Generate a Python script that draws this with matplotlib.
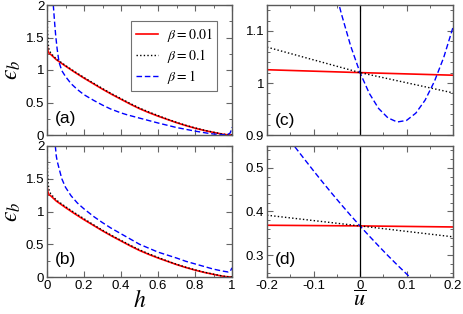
import matplotlib
matplotlib.use("Agg")
import matplotlib.pyplot as plt
from matplotlib.ticker import MultipleLocator, FormatStrFormatter
import numpy as np

plt.rcParams['font.family'] = ['Liberation Sans', 'DejaVu Sans']
plt.rcParams['mathtext.fontset'] = 'stix'
plt.rcParams['axes.unicode_minus'] = False

# panel (a): eps_b vs h
h_red_a = [0.0, 0.005, 0.01, 0.02, 0.05, 0.1, 0.15, 0.2, 0.25, 0.3, 0.35, 0.4, 0.45, 0.5,
           0.55, 0.6, 0.65, 0.7, 0.75, 0.8, 0.85, 0.9, 0.95, 0.97, 1.0]
eps_red_a = [1.40, 1.30, 1.26, 1.24, 1.16, 1.06, 0.965, 0.875, 0.79, 0.705, 0.625, 0.55, 0.475, 0.405,
             0.345, 0.29, 0.24, 0.19, 0.145, 0.105, 0.07, 0.04, 0.012, 0.005, 0.0]
h_blk_a = [0.001, 0.002, 0.003, 0.006, 0.01, 0.02, 0.05, 0.1, 0.15, 0.2, 0.25, 0.3, 0.35, 0.4, 0.45,
           0.5, 0.55, 0.6, 0.65, 0.7, 0.75, 0.8, 0.85, 0.9, 0.95, 0.97, 1.0]
eps_blk_a = [2.0, 1.75, 1.6, 1.42, 1.33, 1.26, 1.17, 1.07, 0.975, 0.885, 0.80, 0.715, 0.635, 0.56, 0.485,
             0.415, 0.355, 0.30, 0.245, 0.195, 0.15, 0.11, 0.074, 0.043, 0.014, 0.006, 0.002]
h_blue_a = [0.034, 0.038, 0.042, 0.047, 0.055, 0.065, 0.08, 0.1, 0.13, 0.164, 0.2, 0.254, 0.3, 0.344,
            0.4, 0.434, 0.5, 0.6, 0.7, 0.8, 0.863, 0.9, 0.95, 0.975, 0.99, 0.995, 1.0]
eps_blue_a = [2.0, 1.85, 1.7, 1.53, 1.32, 1.12, 0.99, 0.9, 0.79, 0.70, 0.62, 0.53, 0.46, 0.40,
              0.34, 0.31, 0.26, 0.185, 0.115, 0.06, 0.03, 0.015, 0.005, 0.005, 0.03, 0.07, 0.12]

# panel (b)
h_red_b = h_red_a
eps_red_b = [1.40, 1.30, 1.26, 1.24, 1.16, 1.06, 0.965, 0.875, 0.79, 0.705, 0.625, 0.55, 0.475, 0.405,
             0.345, 0.29, 0.24, 0.19, 0.145, 0.105, 0.07, 0.04, 0.012, 0.005, 0.0]
h_blk_b = h_blk_a
eps_blk_b = [2.0, 1.8, 1.62, 1.44, 1.34, 1.27, 1.175, 1.075, 0.98, 0.89, 0.80, 0.715, 0.635, 0.56, 0.485,
             0.415, 0.355, 0.30, 0.245, 0.195, 0.15, 0.11, 0.074, 0.043, 0.014, 0.006, 0.002]
h_blue_b = [0.045, 0.05, 0.055, 0.065, 0.08, 0.1, 0.13, 0.164, 0.2, 0.254, 0.3, 0.344, 0.4, 0.45,
            0.5, 0.55, 0.6, 0.65, 0.7, 0.75, 0.8, 0.85, 0.9, 0.95, 0.98, 0.99, 1.0]
eps_blue_b = [2.0, 1.85, 1.77, 1.66, 1.5, 1.37, 1.24, 1.13, 1.04, 0.92, 0.83, 0.75, 0.66, 0.58,
              0.50, 0.44, 0.38, 0.335, 0.29, 0.24, 0.20, 0.16, 0.12, 0.09, 0.076, 0.085, 0.14]

# panel (c): eps vs u
u_lin = [-0.2, 0.0, 0.2]
eps_red_c = [1.0255, 1.020, 1.015]
eps_blk_c = [1.069, 1.020, 0.981]
u_blue = [-0.05, -0.04, -0.02, 0.0, 0.02, 0.04, 0.06, 0.08, 0.10, 0.12, 0.14, 0.16, 0.18, 0.20]
eps_blue_c = [1.167, 1.133, 1.071, 1.020, 0.980, 0.951, 0.933, 0.925, 0.928, 0.942, 0.967, 1.003, 1.049, 1.107]

# panel (d)
eps_red_d = [0.3685, 0.367, 0.3646]
eps_blk_d = [0.3915, 0.367, 0.342]
u_blue_d = [-0.14, -0.12, -0.10, -0.08, -0.06, -0.04, -0.02, 0.0, 0.02, 0.04, 0.06, 0.08, 0.10, 0.12]
eps_blue_d = [0.548, 0.5205, 0.4933, 0.4667, 0.4408, 0.4155, 0.3909, 0.367, 0.3437, 0.3211, 0.299,
              0.2777, 0.2571, 0.2371]

labels = [r'$\beta = 0.01$', r'$\beta = 0.1$', r'$\beta = 1$']
RED, BLK, BLUE = '#ff0000', '#000000', '#0000ff'
DOT = (0, (1, 1.6))
DASH = (0, (4, 2))

fig = plt.figure(figsize=(4.63, 3.14), dpi=100)
W, H = 463.0, 314.0
ax_a = fig.add_axes([47 / W, 1 - 135 / H, 185 / W, 130 / H])
ax_b = fig.add_axes([47 / W, 1 - 277 / H, 185 / W, 131 / H])
ax_c = fig.add_axes([267 / W, 1 - 135 / H, 186 / W, 130 / H])
ax_d = fig.add_axes([267 / W, 1 - 277 / H, 186 / W, 131 / H])


def style(ax, xmaj, xmin, ymaj, ymin):
    ax.xaxis.set_major_locator(MultipleLocator(xmaj))
    ax.xaxis.set_minor_locator(MultipleLocator(xmin))
    ax.yaxis.set_major_locator(MultipleLocator(ymaj))
    ax.yaxis.set_minor_locator(MultipleLocator(ymin))
    ax.xaxis.set_major_formatter(FormatStrFormatter('%g'))
    ax.yaxis.set_major_formatter(FormatStrFormatter('%g'))
    ax.tick_params(which='both', direction='in', top=True, right=True,
                   color='0.4', labelsize=9.5, pad=2)
    ax.tick_params(which='major', length=4.5, width=0.8)
    ax.tick_params(which='minor', length=2.2, width=0.7)
    for s in ax.spines.values():
        s.set_color('0.35')
        s.set_linewidth(1.0)


# left panels
ax_a.plot(h_red_a, eps_red_a, color=RED, lw=1.2, label=labels[0])
ax_a.plot(h_blk_a, eps_blk_a, color=BLK, lw=1.0, ls=DOT, label=labels[1])
ax_a.plot(h_blue_a, eps_blue_a, color=BLUE, lw=1.0, ls=DASH, label=labels[2])
ax_b.plot(h_red_b, eps_red_b, color=RED, lw=1.2)
ax_b.plot(h_blk_b, eps_blk_b, color=BLK, lw=1.0, ls=DOT)
ax_b.plot(h_blue_b, eps_blue_b, color=BLUE, lw=1.0, ls=DASH)

for ax in (ax_a, ax_b):
    ax.set_xlim(0, 1)
    ax.set_ylim(0, 2)
    style(ax, 0.2, 0.1, 0.5, 0.25)
    ax.set_ylabel('$\u03f5_b$', fontsize=17, labelpad=2)
ax_a.tick_params(labelbottom=False)
ax_b.set_xlabel(r'$h$', fontsize=17, labelpad=-1)

leg = ax_a.legend(loc='upper left', bbox_to_anchor=(0.455, 0.875), fontsize=10,
                  handlelength=1.6, handletextpad=0.6, labelspacing=0.2,
                  borderpad=0.35, frameon=True, fancybox=False, borderaxespad=0)
leg.get_frame().set_edgecolor('0.3')
leg.get_frame().set_linewidth(0.8)

# right panels
ax_c.plot(u_lin, eps_red_c, color=RED, lw=1.2)
ax_c.plot(u_lin, eps_blk_c, color=BLK, lw=1.0, ls=DOT)
ax_c.plot(u_blue, eps_blue_c, color=BLUE, lw=1.0, ls=DASH)
ax_d.plot(u_lin, eps_red_d, color=RED, lw=1.2)
ax_d.plot(u_lin, eps_blk_d, color=BLK, lw=1.0, ls=DOT)
ax_d.plot(u_blue_d, eps_blue_d, color=BLUE, lw=1.0, ls=DASH)

ax_c.set_ylim(0.9, 1.15)
ax_d.set_ylim(0.25, 0.55)
for ax in (ax_c, ax_d):
    ax.set_xlim(-0.2, 0.2)
    ax.axvline(0, color='black', lw=0.9)
    style(ax, 0.1, 0.05, 0.1, 0.02)
ax_c.tick_params(labelbottom=False)
ax_d.set_xlabel(r'$\overline{u}$', fontsize=16, labelpad=-1)

for ax, tag, ty in ((ax_a, '(a)', 0.13), (ax_b, '(b)', 0.13), (ax_c, '(c)', 0.115), (ax_d, '(d)', 0.13)):
    ax.text(0.045, ty, tag, transform=ax.transAxes, fontsize=12.5, va='center', ha='left')

fig.savefig('out.png', dpi=100)
